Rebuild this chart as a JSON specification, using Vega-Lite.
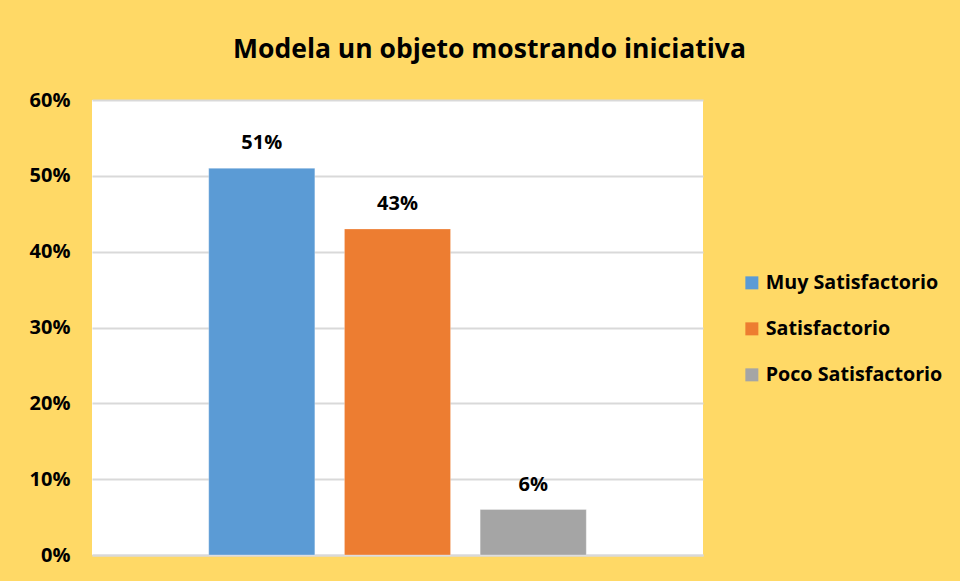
{
  "$schema": "https://vega.github.io/schema/vega-lite/v6.json",
  "autosize": {"type": "none"},
  "width": 611,
  "height": 455,
  "padding": {"left": 92, "top": 100, "right": 257, "bottom": 26},
  "background": "#FFD966",
  "config": {
    "view": {"fill": "#FFFFFF", "stroke": null},
    "font": "Open Sans"
  },
  "title": {
    "text": "Modela un objeto mostrando iniciativa",
    "fontSize": 26.5,
    "fontWeight": "bold",
    "font": "Open Sans",
    "color": "#000000",
    "anchor": "middle",
    "dx": 92,
    "offset": 27
  },
  "data": {
    "values": [
      {"categoria": "Muy Satisfactorio", "valor": 0.51},
      {"categoria": "Satisfactorio", "valor": 0.43},
      {"categoria": "Poco Satisfactorio", "valor": 0.06}
    ]
  },
  "encoding": {
    "x": {
      "field": "categoria",
      "type": "nominal",
      "sort": ["Muy Satisfactorio", "Satisfactorio", "Poco Satisfactorio"],
      "scale": {"paddingInner": 0.218, "paddingOuter": 0.86},
      "axis": {"labels": false, "ticks": false, "title": null, "domain": true, "domainColor": "#D9D9D9", "domainWidth": 2}
    },
    "y": {
      "field": "valor",
      "type": "quantitative",
      "scale": {"domain": [0, 0.6], "nice": false},
      "axis": {
        "values": [0, 0.1, 0.2, 0.3, 0.4, 0.5, 0.6],
        "format": ".0%",
        "title": null,
        "domain": false,
        "ticks": false,
        "labelPadding": 22,
        "labelFontSize": 20,
        "labelFontWeight": "bold",
        "labelColor": "#000000",
        "labelFont": "Open Sans",
        "gridColor": "#D9D9D9",
        "gridWidth": 2
      }
    }
  },
  "layer": [
    {
      "mark": {"type": "bar", "stroke": "#FFFFFF", "strokeWidth": 0.5, "strokeOpacity": 0.6},
      "encoding": {
        "color": {
          "field": "categoria",
          "type": "nominal",
          "sort": ["Muy Satisfactorio", "Satisfactorio", "Poco Satisfactorio"],
          "scale": {
            "domain": ["Muy Satisfactorio", "Satisfactorio", "Poco Satisfactorio"],
            "range": ["#5B9BD5", "#ED7D31", "#A5A5A5"]
          },
          "legend": {
            "orient": "none",
            "legendX": 650,
            "legendY": 173,
            "title": null,
            "symbolType": "square",
            "symbolSize": 169,
            "symbolStrokeWidth": 0,
            "padding": 0,
            "labelFontSize": 19.7,
            "labelFontWeight": "bold",
            "labelFont": "Open Sans",
            "labelColor": "#000000",
            "labelOffset": 4,
            "rowPadding": 25,
            "labelLimit": 300
          }
        }
      }
    },
    {
      "mark": {"type": "text", "dy": -25, "fontSize": 20, "fontWeight": "bold", "font": "Open Sans", "color": "#000000", "baseline": "middle"},
      "encoding": {
        "text": {"field": "valor", "type": "quantitative", "format": ".0%"}
      }
    }
  ]
}
